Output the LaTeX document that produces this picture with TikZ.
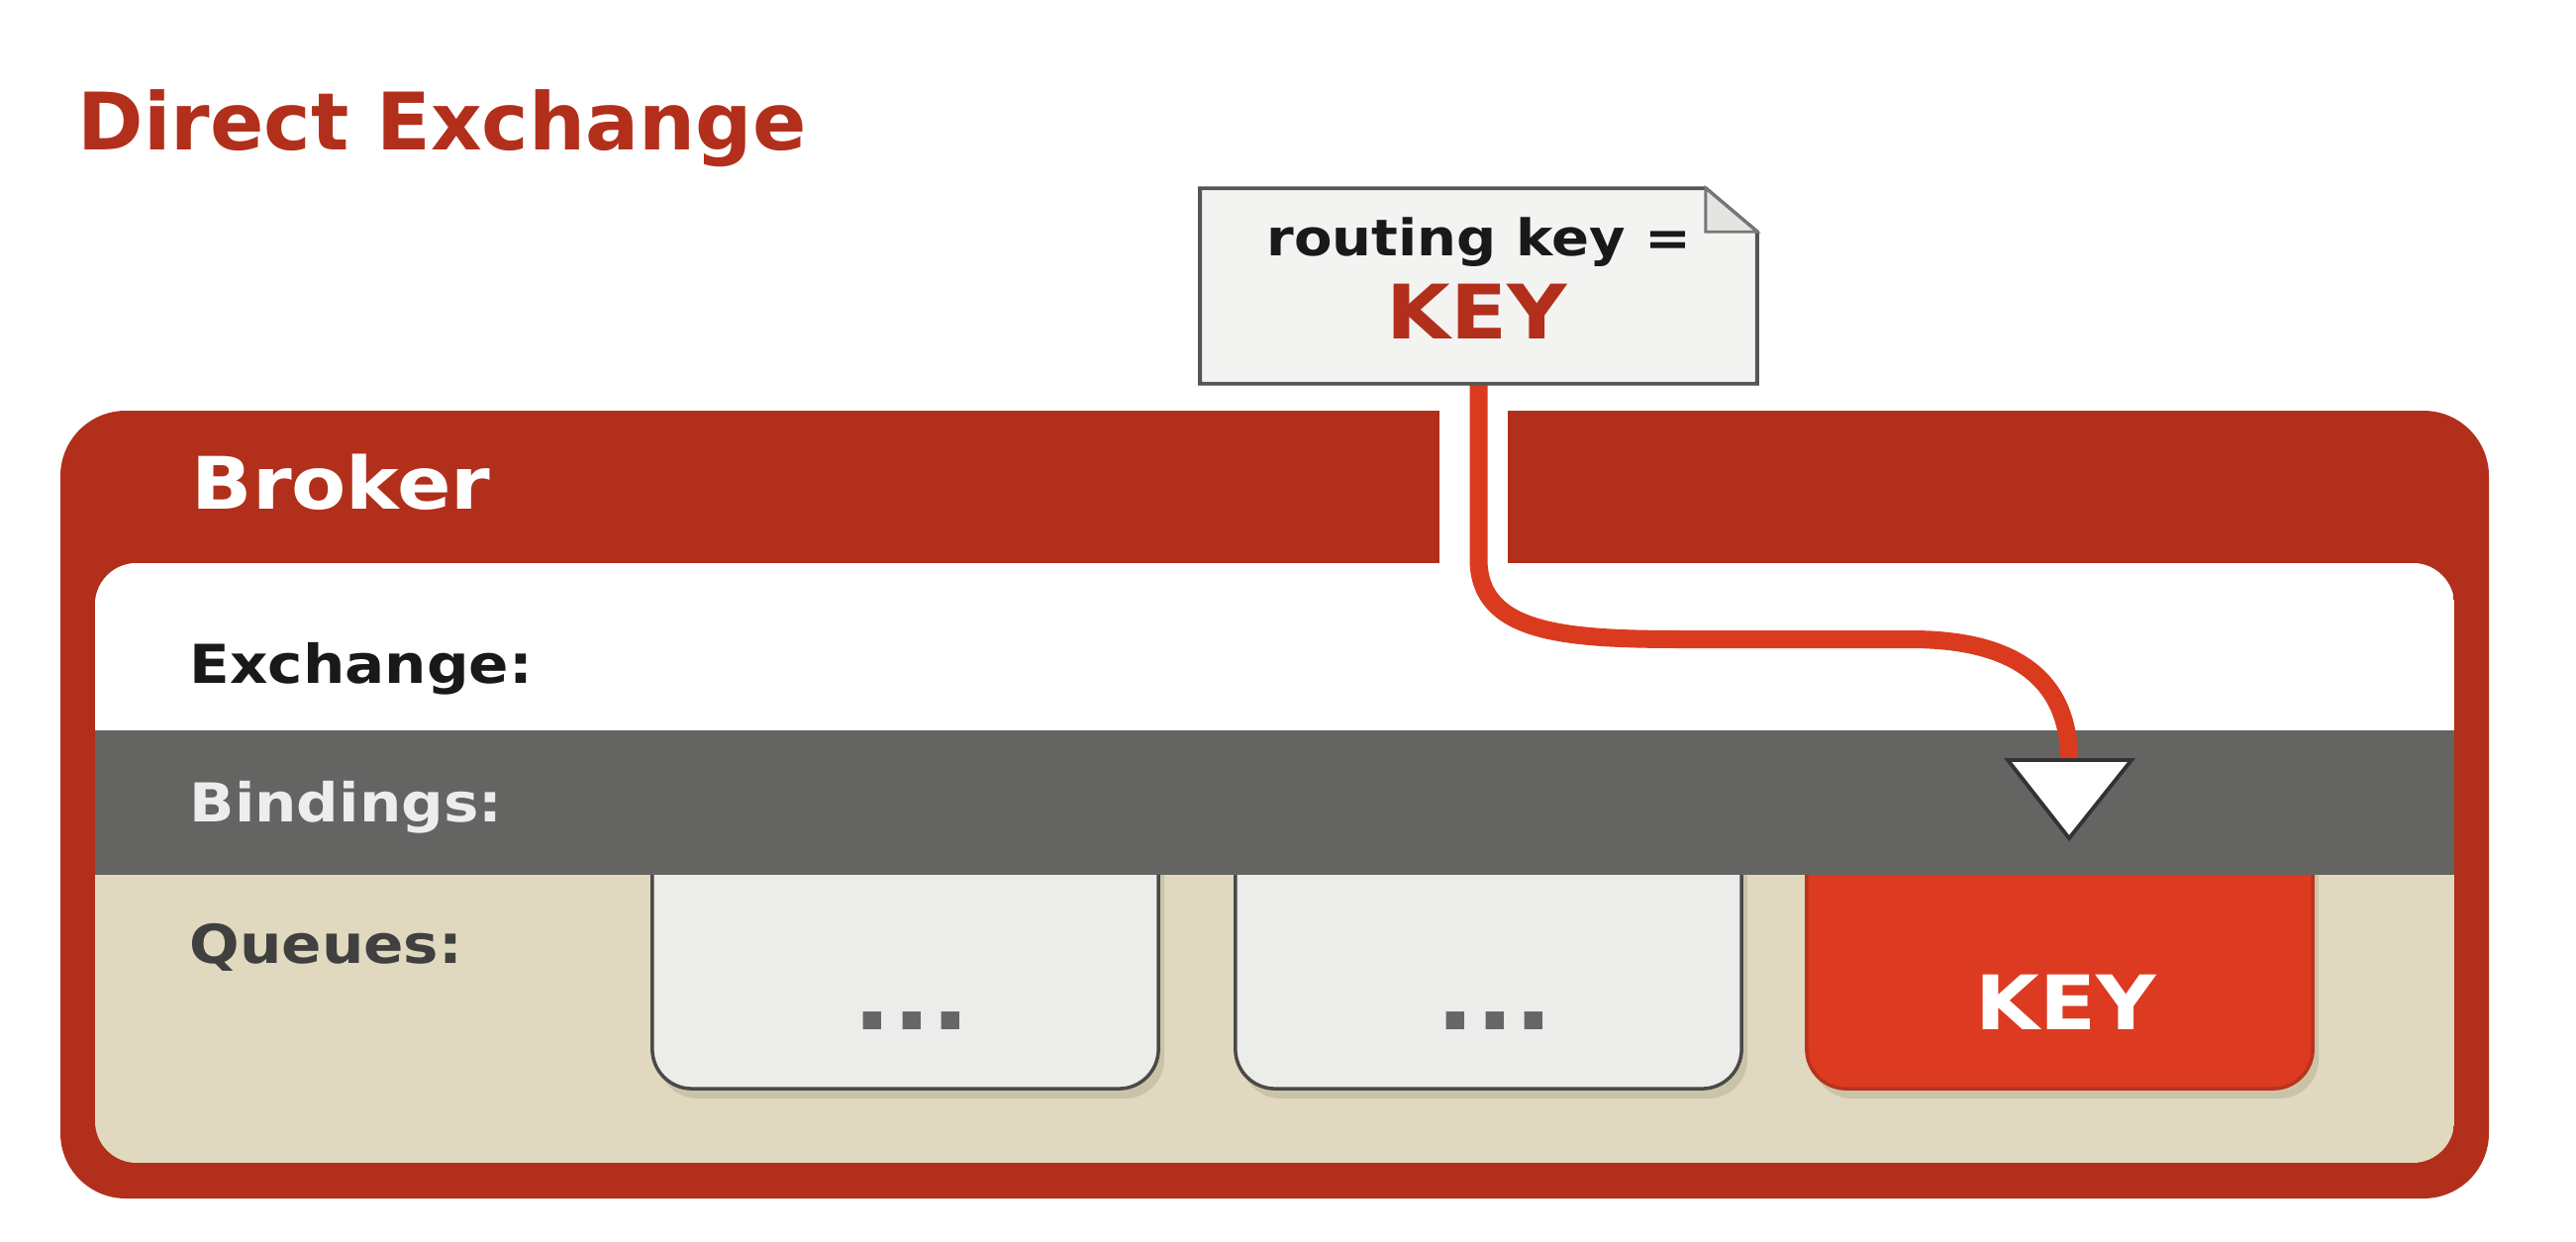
\documentclass[tikz,border=0pt]{standalone}
\usepackage{fontspec}
\setmainfont{DejaVu Sans}
\newfontfamily\widefont{DejaVu Sans}[FakeStretch=1.1]
\usetikzlibrary{shadows}
\definecolor{brokerred}{HTML}{B22F1B}
\definecolor{linered}{HTML}{DA3B1F}
\definecolor{bindgray}{HTML}{646562}
\definecolor{beige}{HTML}{E1D9BF}
\definecolor{qfill}{HTML}{ECEDEA}
\definecolor{qborder}{HTML}{4A4A48}
\definecolor{keyfill}{HTML}{DC3A21}
\definecolor{keyborder}{HTML}{B9331C}
\definecolor{notefill}{HTML}{F3F3F2}
\definecolor{noteborder}{HTML}{555555}
\definecolor{foldfill}{HTML}{E4E4E3}
\definecolor{shadowc}{HTML}{C9C1A7}
\definecolor{dotgray}{HTML}{666666}
\begin{document}
\begin{tikzpicture}[x=0.01cm,y=-0.01cm,
  lbl/.style={anchor=base west, inner sep=0pt, font={\widefont\bfseries\fontsize{15.4pt}{18pt}\selectfont}},
  qbox/.style={minimum width=5.11cm, minimum height=3cm, rounded corners=0.4cm, line width=1pt, inner sep=0pt,
    drop shadow={shadow xshift=0.06cm, shadow yshift=-0.1cm, fill=shadowc, opacity=0.9}},
  qtext/.style={anchor=base, inner sep=0pt},
]
% background / bounding box
\fill[white] (0,0) rectangle (2602,1254);
\useasboundingbox (0,0) rectangle (2602,1254);

% title
\node[anchor=base west, inner sep=0pt, text=brokerred, font={\bfseries\fontsize{22.8pt}{26pt}\selectfont}] (title) at (78,151) {Direct Exchange};

% broker frame
\fill[brokerred, rounded corners=0.66cm] (61,415) rectangle (2514,1211);
\fill[white] (1454,415) rectangle (1523,569);
\node[anchor=base west, inner sep=0pt, text=white, font={\widefont\bfseries\fontsize{20.8pt}{24pt}\selectfont}] (broker) at (193,514) {Broker};

% inner panel
\begin{scope}
  \clip[rounded corners=0.42cm] (96,569) rectangle (2479,1175);
  \fill[beige] (96,569) rectangle (2479,1175);
  \fill[white] (96,569) rectangle (2479,738);
  \node[qbox, draw=qborder, fill=qfill] (q1) at (914.5,950) {};
  \node[qbox, draw=qborder, fill=qfill] (q2) at (1503.5,950) {};
  \node[qbox, draw=keyborder, fill=keyfill] (q3) at (2080.5,950) {};
  \fill[bindgray] (96,738) rectangle (2479,884);
\end{scope}

% row labels
\node[lbl, text=black!90] (exlbl) at (191,690) {Exchange:};
\node[lbl, text=white!93!black] (bdlbl) at (191,830) {Bindings:};
\node[lbl, text=black!75] (qulbl) at (191,973) {Queues:};

% queue texts
\node[qtext, text=dotgray, font={\widefont\bfseries\fontsize{27pt}{30pt}\selectfont}] (d1) at (921,1040) {...};
\node[qtext, text=dotgray, font={\widefont\bfseries\fontsize{27pt}{30pt}\selectfont}] (d2) at (1510,1040) {...};
\node[qtext, text=white, font={\widefont\bfseries\fontsize{21.6pt}{24pt}\selectfont}] (k3) at (2087,1040) {KEY};

% note node (placeholder for geometry)
\node[minimum width=5.61cm, minimum height=1.96cm, inner sep=0pt] (note) at (1493.5,289) {};
\coordinate (tri) at (2090,768);

% routing line
\draw[linered, line width=0.18cm] (note.south) -- (1493.5,565)
  .. controls (1493.5,640) and (1580,646) .. (1700,646)
  -- (1930,646)
  .. controls (2040,646) and (2090,690) .. (tri);

% note shape
\draw[fill=notefill, draw=noteborder, line width=1.1pt, line join=miter]
  (note.south west) -- (note.north west) -- ([xshift=-0.52cm]note.north east)
  -- ([yshift=-0.44cm]note.north east) -- (note.south east) -- cycle;
\draw[fill=foldfill, draw=noteborder!80, line width=0.8pt, line join=miter]
  ([xshift=-0.52cm]note.north east) -- ([xshift=-0.52cm,yshift=-0.44cm]note.north east)
  -- ([yshift=-0.44cm]note.north east) -- cycle;
\node[anchor=base, inner sep=0pt, text=black!90, font={\widefont\bfseries\fontsize{14.5pt}{17pt}\selectfont}] (rk) at (1494,258) {routing key =};
\node[anchor=base, inner sep=0pt, text=brokerred, font={\widefont\bfseries\fontsize{21.6pt}{24pt}\selectfont}] (nk) at (1492,342) {KEY};

% triangle
\draw[fill=white, draw=black!80, line width=1.1pt, line join=miter]
  (tri) ++(-62,0) -- ++(125,0) -- ++(-63,79) -- cycle;
\end{tikzpicture}
\end{document}
